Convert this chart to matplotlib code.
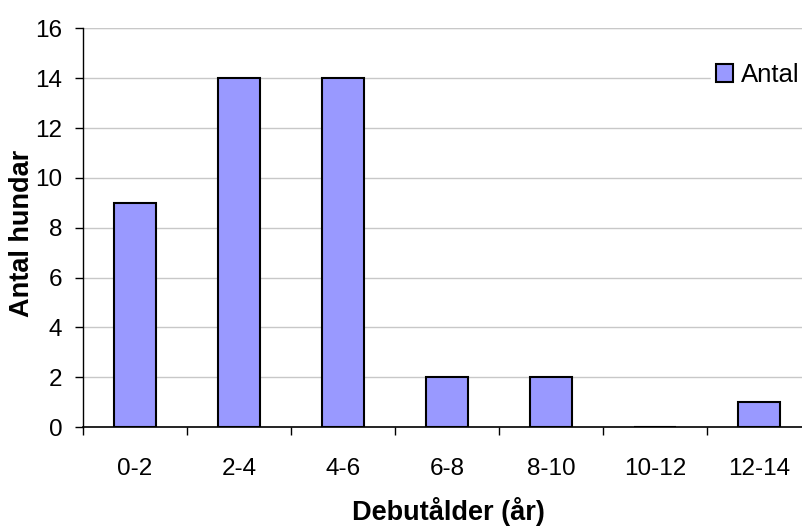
import matplotlib
matplotlib.use('Agg')
import matplotlib.pyplot as plt
import numpy as np

categories = ['0-2', '2-4', '4-6', '6-8', '8-10', '10-12', '12-14']
antal = [9, 14, 14, 2, 2, 0, 1]

plt.rcParams['font.family'] = ['Liberation Sans', 'DejaVu Sans']

fig = plt.figure(figsize=(8.03, 5.27), dpi=100)
# plot area runs a little past the right edge of the figure
ax = fig.add_axes([83 / 803, 100 / 527, 728 / 803, 398.5 / 527])

x = np.arange(len(categories))
ax.bar(x, antal, width=0.4, color='#9999FF', edgecolor='black', linewidth=1.5,
       label='Antal', zorder=2)

ax.set_xlim(-0.5, len(categories) - 0.5)
ax.set_ylim(0, 16)
ax.set_yticks(range(0, 17, 2))
ax.yaxis.grid(True, color='#C8C8C8', linewidth=1, zorder=0)
ax.axhline(16, color='#808080', linewidth=1.5, zorder=1)

ax.set_xticks(x)
ax.set_xticklabels(categories)
ax.set_xticks(np.arange(-0.5, len(categories)), minor=True)
ax.tick_params(axis='x', which='major', length=0, pad=22, labelsize=17.5)
ax.tick_params(axis='x', which='minor', length=6, width=1, direction='out')
ax.tick_params(axis='y', length=6, width=1, direction='out', labelsize=17.5, pad=9)

for side in ['top', 'right']:
    ax.spines[side].set_visible(False)
ax.spines['left'].set_linewidth(1)
ax.spines['bottom'].set_linewidth(1.2)
ax.spines['left'].set_zorder(3)
ax.spines['bottom'].set_zorder(3)

fig.text(22 / 803, 1 - 233 / 527, 'Antal hundar', rotation=90, fontsize=19.5,
         fontweight='bold', ha='center', va='center')
fig.text(448 / 803, 1 - 512 / 527, 'Debutålder (år)', fontsize=19.5,
         fontweight='bold', ha='center', va='center')

leg = fig.legend(loc='center left', bbox_to_anchor=(711 / 803, 1 - 75 / 527),
                 frameon=True, fontsize=18.5, handlelength=0.65, handleheight=0.65,
                 handletextpad=0.3, borderpad=0.2, borderaxespad=0)
leg.get_frame().set_edgecolor('white')
leg.get_frame().set_facecolor('white')
leg.get_frame().set_alpha(1)
for h in leg.legend_handles:
    h.set_linewidth(1.5)

plt.savefig('out.png', dpi=100)
